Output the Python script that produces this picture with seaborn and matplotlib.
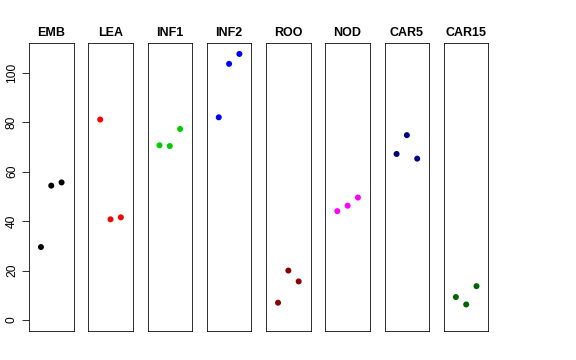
import pandas as pd
import numpy as np
import seaborn as sns
import matplotlib.pyplot as plt

# Dữ liệu
groups = ['EMB', 'LEA', 'INF1', 'INF2', 'ROO', 'NOD', 'CAR5', 'CAR15']
emb = [29.5, 54.3, 55.6]
lea = [81.0, 40.7, 41.5]
inf1 = [70.6, 70.3, 77.2]
inf2 = [81.9, 103.5, 107.5]
roo = [7.0, 20.0, 15.6]
nod = [44.0, 46.2, 49.5]
car5 = [67.1, 74.7, 65.2]
car15 = [9.3, 6.3, 13.7]
colors = ['black', 'red', '#00CD00', 'blue', '#8B0000', 'magenta', '#000080', '#006400']

values = [emb, lea, inf1, inf2, roo, nod, car5, car15]
df = pd.DataFrame({
    'group': np.repeat(groups, 3),
    'rep': np.tile([1, 2, 3], len(groups)),
    'value': np.concatenate(values),
})

sns.set_style('white')
plt.rcParams['font.family'] = ['Liberation Sans', 'DejaVu Sans']
plt.rcParams['text.color'] = 'black'
plt.rcParams['ytick.color'] = 'black'
plt.rcParams['axes.labelcolor'] = 'black'

fig, axes = plt.subplots(1, len(groups), figsize=(8, 5), dpi=72, sharey=True)
fig.subplots_adjust(left=0.0503, right=0.848, bottom=0.0814, top=0.8797, wspace=0.33)

ymax = df['value'].max()
pad = 0.04 * ymax
for ax, g, c in zip(axes, groups, colors):
    sub = df[df['group'] == g]
    sns.scatterplot(data=sub, x='rep', y='value', color=c, s=36, edgecolor='none', ax=ax, legend=False)
    ax.set_xlim(-0.16, 4.16)
    ax.set_ylim(-pad, ymax + pad)
    ax.set_xticks([])
    ax.set_xlabel('')
    ax.set_ylabel('')
    ax.set_title(g, fontsize=12.5, fontweight='bold', pad=7, color='black')
    for sp in ax.spines.values():
        sp.set_visible(True)
        sp.set_color('black')
        sp.set_linewidth(0.8)
    if ax is axes[0]:
        ax.set_yticks([0, 20, 40, 60, 80, 100])
        ax.tick_params(axis='y', left=True, length=7, width=0.8, labelsize=12, pad=4, colors='black')
        for lab in ax.get_yticklabels():
            lab.set_rotation(90)
            lab.set_va('center')
    else:
        ax.tick_params(axis='y', left=False, labelleft=False)

fig.savefig('out.png', dpi=72, facecolor='white')
